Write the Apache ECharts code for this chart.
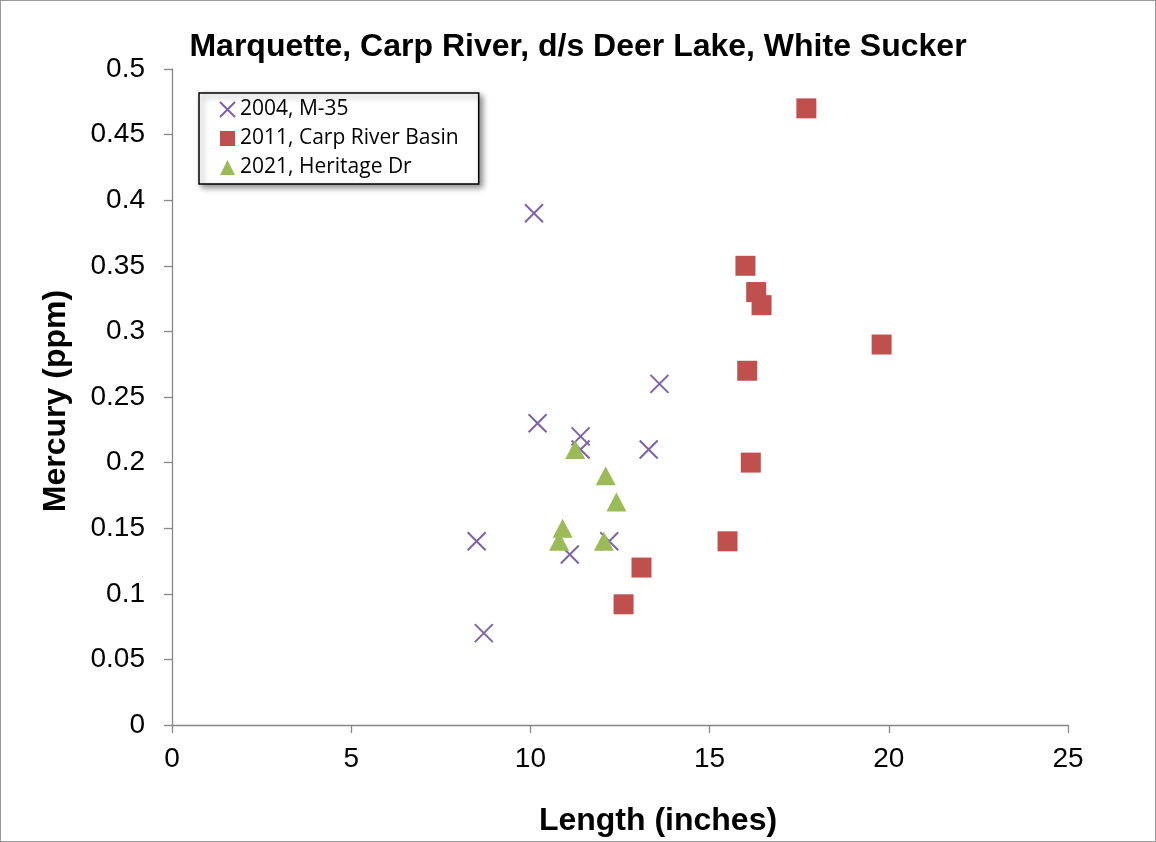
<!DOCTYPE html>
<html><head><meta charset="utf-8">
<script src="https://cdn.jsdelivr.net/npm/echarts@6/dist/echarts.min.js"></script>
<style>html,body{margin:0;padding:0;background:#fff}#c{width:1156px;height:842px;box-sizing:border-box;border:1px solid #9a9a9a}</style>
</head><body><div id="c"></div>
<script>
const titleText = 'Marquette, Carp River, d/s Deer Lake, White Sucker';
const xTitle = 'Length (inches)';
const yTitle = 'Mercury (ppm)';
const seriesNames = ['2004, M-35', '2011, Carp River Basin', '2021, Heritage Dr'];
const len2004 = [8.5, 8.7, 10.1, 10.2, 11.1, 11.4, 11.4, 13.3, 13.6, 12.2];
const hg2004  = [0.14, 0.07, 0.39, 0.23, 0.13, 0.22, 0.21, 0.21, 0.26, 0.14];
const len2011 = [17.7, 16.0, 16.3, 16.45, 19.8, 16.05, 16.15, 15.5, 13.1, 12.6];
const hg2011  = [0.47, 0.35, 0.33, 0.32, 0.29, 0.27, 0.20, 0.14, 0.12, 0.092];
const len2021 = [11.25, 12.1, 12.4, 10.9, 10.8, 12.05];
const hg2021  = [0.21, 0.19, 0.17, 0.15, 0.14, 0.14];

const zip = (a, b) => a.map((v, i) => [v, b[i]]);
const chart = echarts.init(document.getElementById('c'));
const axisLine = {show: true, lineStyle: {color: '#868686', width: 1.3}};
const nameStyle = {fontFamily: 'Liberation Sans', fontWeight: 'bold', fontSize: 32, color: '#000'};
chart.setOption({
  animation: false,
  title: {text: titleText, left: 'center', top: 25,
    textStyle: {fontFamily: 'Liberation Sans', fontWeight: 'bold', fontSize: 32, color: '#000'}},
  grid: {left: 171, right: 87, top: 68, bottom: 116, outerBoundsMode: 'none', containLabel: false},
  legend: {
    orient: 'vertical', left: 198, top: 92,
    padding: [6, 20, 6, 20], itemGap: 8, itemWidth: 15, itemHeight: 15,
    backgroundColor: '#fff', borderColor: '#000', borderWidth: 1.5,
    shadowColor: 'rgba(0,0,0,0.45)', shadowBlur: 6, shadowOffsetX: 3, shadowOffsetY: 3,
    textStyle: {fontFamily: 'Open Sans', fontSize: 21, color: '#000', padding: [0,0,0,0]},
    data: seriesNames
  },
  xAxis: {type: 'value', min: 0, max: 25, interval: 5,
    name: xTitle, nameLocation: 'middle', nameGap: 80,
    nameTextStyle: Object.assign({padding: [0, 0, 0, 76]}, nameStyle),
    axisLine: axisLine, axisTick: {show: true, length: 8, lineStyle: {color: '#868686', width: 1.3}},
    axisLabel: {fontFamily: 'Liberation Sans', fontSize: 28, color: '#000', margin: 20},
    splitLine: {show: false}},
  yAxis: {type: 'value', min: 0, max: 0.5, interval: 0.05,
    name: yTitle, nameLocation: 'middle', nameGap: 100, nameRotate: 90,
    nameTextStyle: Object.assign({padding: [0, 8, 0, 0]}, nameStyle),
    axisLine: axisLine, axisTick: {show: true, length: 8, lineStyle: {color: '#868686', width: 1.3}},
    axisLabel: {fontFamily: 'Liberation Sans', fontSize: 28, color: '#000', margin: 27,
      formatter: v => String(+v.toFixed(2))},
    splitLine: {show: false}},
  series: [
    {name: seriesNames[0], type: 'scatter', data: zip(len2004, hg2004),
      symbol: 'path://M0,0L10,10M10,0L0,10', symbolSize: 18,
      itemStyle: {color: 'rgba(0,0,0,0)', borderColor: '#7f63a8', borderWidth: 2, opacity: 1}},
    {name: seriesNames[1], type: 'scatter', data: zip(len2011, hg2011),
      symbol: 'rect', symbolSize: 20, itemStyle: {color: '#c0504d', opacity: 1}},
    {name: seriesNames[2], type: 'scatter', data: zip(len2021, hg2021),
      symbol: 'triangle', symbolSize: [20, 19], itemStyle: {color: '#9bbb59', opacity: 1}}
  ]
});
</script></body></html>
